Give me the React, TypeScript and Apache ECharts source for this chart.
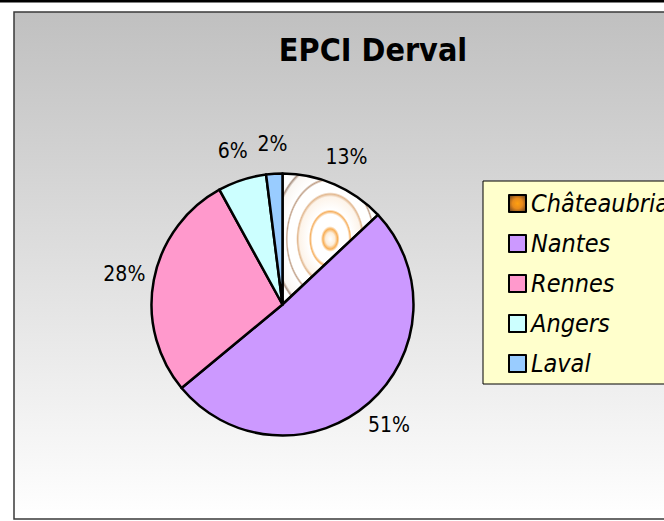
import React, { useEffect, useRef } from 'react';
import * as echarts from 'echarts';

const chartTitle = 'EPCI Derval';
const categories = ['Châteaubriant', 'Nantes', 'Rennes', 'Angers', 'Laval'];
const shares = [13, 51, 28, 6, 2];
const sliceColors = ['#ffffff', '#cc99ff', '#ff99cc', '#ccffff', '#99ccff'];

const FONT = '"DejaVu Sans Condensed", "DejaVu Sans", sans-serif';

export default function App() {
  const ref = useRef<HTMLDivElement>(null);

  useEffect(() => {
    if (!ref.current) return;
    const chart = echarts.init(ref.current, null, { renderer: 'svg' });

    const hatch = new echarts.graphic.RadialGradient(0.5, 0.5, 0.7, [
      { offset: 0, color: '#ffffff' },
      { offset: 0.07, color: '#fdeeda' },
      { offset: 0.11, color: '#f8ae55' },
      { offset: 0.14, color: '#ffffff' },
      { offset: 0.27, color: '#ffffff' },
      { offset: 0.3, color: '#f6b060' },
      { offset: 0.32, color: '#ffffff' },
      { offset: 0.46, color: '#fdf4ea' },
      { offset: 0.49, color: '#e2b890' },
      { offset: 0.51, color: '#ffffff' },
      { offset: 0.63, color: '#ffffff' },
      { offset: 0.65, color: '#c0a088' },
      { offset: 0.67, color: '#ffffff' },
      { offset: 0.82, color: '#faf6f2' },
      { offset: 0.85, color: '#a89080' },
      { offset: 0.87, color: '#ffffff' },
      { offset: 1, color: '#ffffff' },
    ]);
    const legendChip = new echarts.graphic.RadialGradient(0.5, 0.5, 0.6, [
      { offset: 0, color: '#ffa010' },
      { offset: 0.5, color: '#e88a1a' },
      { offset: 1, color: '#7a4a20' },
    ]);

    const colors = sliceColors.map((c, i) => (i === 0 ? hatch : c));
    const center = [282.5, 304.5];

    const option: any = {
      animation: false,
      backgroundColor: '#ffffff',
      graphic: [
        {
          type: 'rect',
          z: -10,
          silent: true,
          shape: { x: 0, y: 0, width: 664, height: 2.5 },
          style: { fill: '#000000' },
        },
        {
          type: 'rect',
          z: -10,
          silent: true,
          shape: { x: 14, y: 12, width: 700, height: 507 },
          style: {
            fill: new echarts.graphic.LinearGradient(0, 0, 0, 1, [
              { offset: 0, color: '#c0c0c0' },
              { offset: 1, color: '#ffffff' },
            ]),
            stroke: '#3a3a3a',
            lineWidth: 1.5,
          },
        },
      ],
      title: {
        text: chartTitle,
        left: 373,
        top: 34,
        textAlign: 'center',
        padding: 0,
        textStyle: {
          fontFamily: FONT,
          fontWeight: 'bold',
          fontSize: 32,
          lineHeight: 32,
          color: '#000000',
        },
      },
      legend: {
        orient: 'vertical',
        left: 483,
        top: 181,
        backgroundColor: '#ffffcc',
        borderColor: '#000000',
        borderWidth: 1,
        padding: [10, 12, 8, 25],
        itemGap: 15,
        itemWidth: 17,
        itemHeight: 17,
        icon: 'rect',
        selectedMode: false,
        itemStyle: { borderColor: '#000000', borderWidth: 2 },
        textStyle: {
          fontFamily: FONT,
          fontStyle: 'italic',
          fontSize: 25,
          lineHeight: 25,
          color: '#000000',
        },
        data: categories.map((n, i) =>
          i === 0 ? { name: n, itemStyle: { color: legendChip } } : { name: n }
        ),
      },
      series: [
        {
          type: 'pie',
          center,
          radius: 131,
          startAngle: 90,
          clockwise: true,
          silent: true,
          percentPrecision: 0,
          emphasis: { disabled: true },
          itemStyle: { borderColor: '#000000', borderWidth: 2.5 },
          label: { show: false },
          labelLine: { show: false },
          data: categories.map((n, i) => ({
            name: n,
            value: shares[i],
            itemStyle: { color: colors[i] },
          })),
        },
        {
          type: 'pie',
          center,
          radius: [146, 170],
          startAngle: 90,
          clockwise: true,
          silent: true,
          legendHoverLink: false,
          avoidLabelOverlap: false,
          percentPrecision: 0,
          emphasis: { disabled: true },
          itemStyle: { color: 'rgba(0,0,0,0)', borderWidth: 0 },
          label: {
            show: true,
            position: 'inside',
            formatter: '{d}%',
            fontFamily: FONT,
            fontSize: 21,
            color: '#000000',
          },
          labelLine: { show: false },
          data: categories.map((n, i) => ({ name: n, value: shares[i] })),
        },
      ],
    };

    chart.setOption(option);
    return () => chart.dispose();
  }, []);

  return (
    <div
      ref={ref}
      style={{ position: 'absolute', left: 0, top: 0, width: 664, height: 521 }}
    />
  );
}
